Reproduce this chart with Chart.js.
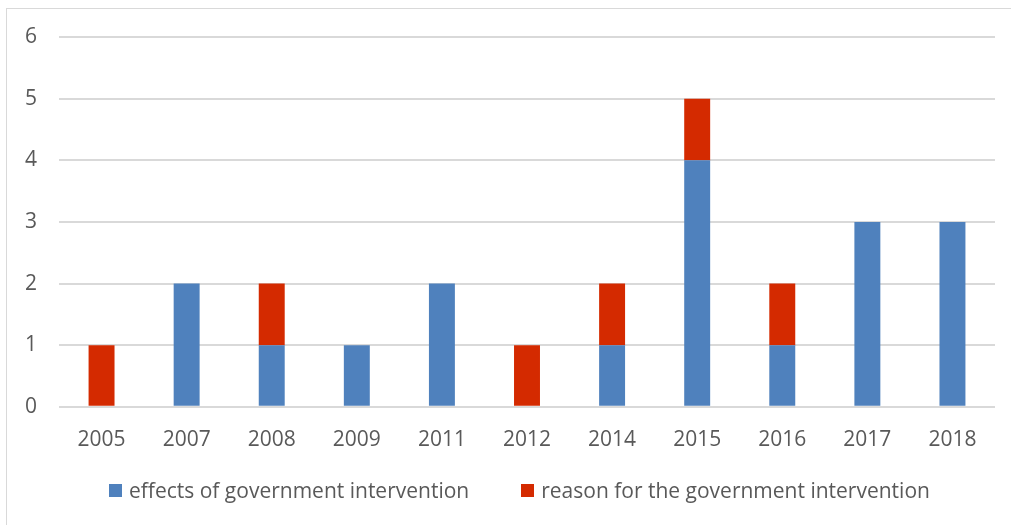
<!DOCTYPE html>
<html>
<head>
<meta charset="utf-8">
<script src="https://cdn.jsdelivr.net/npm/chart.js@4"></script>
<style>
    body { margin: 0; background: #fff; }
    #wrap { position: absolute; left: 0; top: 0; width: 1011px; height: 525px; }
    #frame { position: absolute; left: 6px; top: 8px; width: 1010px; height: 525px; border: 1px solid #d9d9d9; box-sizing: border-box; }
    #chart { position: absolute; left: 0; top: 0; }
    #legend { position: absolute; left: 109px; top: 476px; display: flex; align-items: center;
              font-family: 'Open Sans', 'Noto Sans', sans-serif; font-size: 21px; color: #595959; white-space: nowrap; }
    #legend .item { display: flex; align-items: center; margin-right: 52px; }
    #legend .box { width: 13px; height: 13px; margin-right: 7px; }
</style>
</head>
<body>
<div id="wrap">
    <div id="frame"></div>
    <canvas id="chart" width="1011" height="525"></canvas>
    <div id="legend"></div>
</div>
<script>
// Data
const years = ['2005', '2007', '2008', '2009', '2011', '2012', '2014', '2015', '2016', '2017', '2018'];
const effects = [0, 2, 1, 1, 2, 0, 1, 4, 1, 3, 3];
const reasons = [1, 0, 1, 0, 0, 1, 1, 1, 1, 0, 0];
const yTicks = [0, 1, 2, 3, 4, 5, 6];

document.addEventListener('DOMContentLoaded', () => {
    const ctx = document.getElementById('chart').getContext('2d');
    const font = { family: "'Open Sans', 'Noto Sans', sans-serif", size: 21 };

    const chart = new Chart(ctx, {
        type: 'bar',
        data: {
            labels: years,
            datasets: [
                {
                    label: 'effects of government intervention',
                    data: effects,
                    backgroundColor: '#4f81bd',
                    barPercentage: 0.305,
                    categoryPercentage: 1
                },
                {
                    label: 'reason for the government intervention',
                    data: reasons,
                    backgroundColor: '#d42a00',
                    barPercentage: 0.305,
                    categoryPercentage: 1
                }
            ]
        },
        options: {
            responsive: false,
            animation: false,
            layout: { padding: { left: 3, right: 16, top: 37, bottom: 59 } },
            plugins: {
                tooltip: { enabled: false },
                legend: { display: false }
            },
            scales: {
                x: {
                    stacked: true,
                    grid: { display: false },
                    border: { display: false },
                    ticks: { color: '#595959', font: font, padding: 13 }
                },
                y: {
                    stacked: true,
                    min: 0,
                    max: 6,
                    afterBuildTicks: axis => { axis.ticks = yTicks.map(v => ({ value: v })); },
                    grid: { color: '#d9d9d9', lineWidth: 2, drawTicks: false },
                    border: { display: false },
                    ticks: { color: '#595959', font: font, padding: 22 }
                }
            }
        }
    });

    // HTML legend built from the datasets
    const legend = document.getElementById('legend');
    chart.data.datasets.forEach(ds => {
        const item = document.createElement('div');
        item.className = 'item';
        const box = document.createElement('span');
        box.className = 'box';
        box.style.background = ds.backgroundColor;
        const text = document.createElement('span');
        text.textContent = ds.label;
        item.append(box, text);
        legend.append(item);
    });
});
</script>
</body>
</html>
